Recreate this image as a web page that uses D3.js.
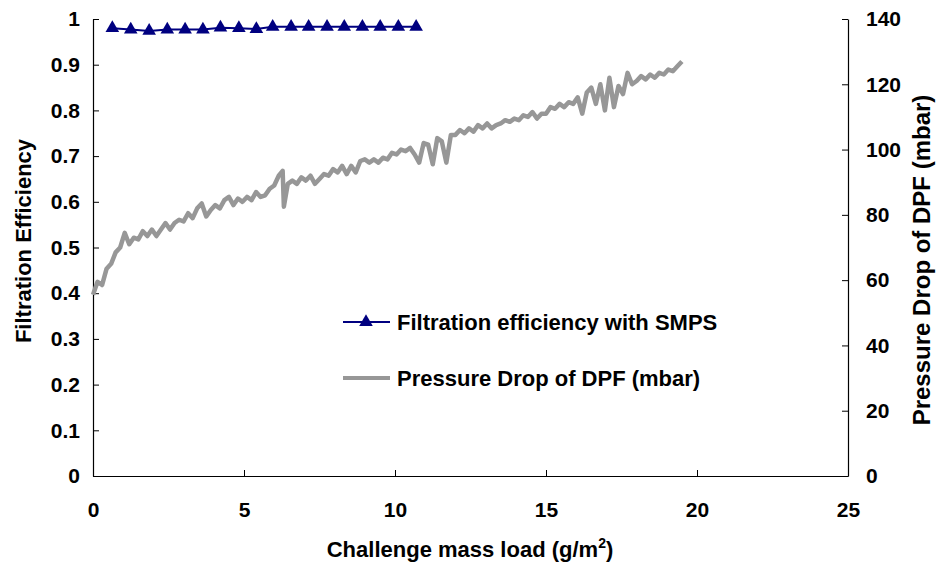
<!DOCTYPE html>
<html>
<head>
<meta charset="utf-8">
<script src="https://cdn.jsdelivr.net/npm/d3@7"></script>
<style>
  body { margin: 0; background: #fff; }
  text { font-family: "Liberation Sans", Arial, sans-serif; font-weight: bold; fill: #000; }
</style>
</head>
<body>
<div id="chart"></div>
<script>
// Filtration efficiency (left axis) and pressure drop (right axis) vs mass load

// efficiency measured with SMPS
var effLoad = [0.64, 1.25, 1.86, 2.46, 3.05, 3.64, 4.22, 4.83, 5.41, 5.95,
               6.56, 7.14, 7.75, 8.32, 8.92, 9.51, 10.11, 10.70];
var effValue = [0.980, 0.977, 0.974, 0.977, 0.977, 0.977, 0.981, 0.980, 0.978, 0.983,
                0.983, 0.983, 0.983, 0.983, 0.983, 0.983, 0.983, 0.983];

// pressure drop of DPF (mbar)
var pdLoad = [0.00, 0.15, 0.30, 0.45, 0.60, 0.75, 0.90, 1.05, 1.20, 1.35,
              1.50, 1.65, 1.80, 1.95, 2.10, 2.25, 2.40, 2.55, 2.70, 2.85,
              3.00, 3.15, 3.30, 3.45, 3.60, 3.75, 3.90, 4.05, 4.20, 4.35,
              4.50, 4.65, 4.80, 4.95, 5.10, 5.25, 5.40, 5.55, 5.70, 5.85,
              6.00, 6.15, 6.28, 6.32, 6.45, 6.60, 6.75, 6.90, 7.05, 7.20, 7.35,
              7.50, 7.65, 7.80, 7.95, 8.10, 8.25, 8.40, 8.55, 8.70, 8.85,
              9.00, 9.15, 9.30, 9.45, 9.60, 9.75, 9.90, 10.05, 10.20, 10.35,
              10.50, 10.65, 10.80, 10.95, 11.10, 11.25, 11.40, 11.55, 11.70, 11.85,
              12.00, 12.15, 12.30, 12.45, 12.60, 12.75, 12.90, 13.05, 13.20, 13.35,
              13.50, 13.65, 13.80, 13.95, 14.10, 14.25, 14.40, 14.55, 14.70, 14.85,
              15.00, 15.15, 15.30, 15.45, 15.60, 15.75, 15.90, 16.05, 16.20, 16.35,
              16.50, 16.65, 16.80, 16.95, 17.10, 17.25, 17.40, 17.55, 17.70, 17.85,
              18.00, 18.15, 18.30, 18.45, 18.60, 18.75, 18.90, 19.05, 19.20, 19.35, 19.50];
var pdMbar = [55.5, 59.5, 58.5, 63.5, 65, 68.5, 70, 74.5, 71, 73,
              72.5, 75, 73.5, 75.5, 73.5, 75.5, 77.5, 75.5, 77.5, 78.5,
              78, 80.5, 79, 82, 83.5, 79.5, 81.5, 83, 82, 84.5,
              85.5, 83, 85, 84, 85.5, 84.5, 87, 85.5, 86, 88,
              89, 92, 93.5, 82.5, 89.5, 90.5, 89.5, 91.5, 90.5, 92, 89.5,
              91, 92.5, 92, 94, 93, 95, 92.5, 95, 93, 96.5,
              97, 96, 97, 96, 97.5, 97, 99, 98.5, 100, 99.5,
              100.5, 98.5, 96, 102, 101.5, 95.5, 103.5, 102.5, 96, 104.5,
              104.5, 106, 105, 106.5, 105.5, 107.5, 106.5, 108, 106.5, 107.5,
              108, 109, 108.5, 109.5, 109, 110.5, 110, 111.5, 109.5, 111,
              111, 113, 112.5, 114, 113, 114.5, 114, 116, 111, 117.5,
              119, 114, 120, 112, 122, 113, 119.5, 117, 123.5, 120,
              121, 122.5, 121.5, 123, 122, 123.5, 123, 124.5, 124, 125.5, 127];

var xTicks = [0, 5, 10, 15, 20, 25];
var effTicks = [0, 0.1, 0.2, 0.3, 0.4, 0.5, 0.6, 0.7, 0.8, 0.9, 1];
var pdTicks = [0, 20, 40, 60, 80, 100, 120, 140];

var legendNames = ["Filtration efficiency with SMPS", "Pressure Drop of DPF (mbar)"];

var effColor = "#000080", pdColor = "#979797";

var margin = {top: 19, right: 88, bottom: 89, left: 93},
    width = 936 - margin.left - margin.right,
    height = 565 - margin.top - margin.bottom;

var svg = d3.select("#chart").append("svg")
    .attr("width", 936)
    .attr("height", 565)
  .append("g")
    .attr("transform", "translate(" + margin.left + "," + margin.top + ")");

var x = d3.scaleLinear().domain([0, 25]).range([0, width]);
var yL = d3.scaleLinear().domain([0, 1]).range([height, 0]);
var yR = d3.scaleLinear().domain([0, 140]).range([height, 0]);

function styleAxis(g) {
    g.selectAll("path.domain").attr("stroke", "#000").attr("stroke-width", 1.2);
    g.selectAll(".tick line").attr("stroke", "#000");
    g.selectAll(".tick text").attr("font-size", 21).attr("font-family", null);
}

// x axis
svg.append("g")
    .attr("transform", "translate(0," + height + ")")
    .call(d3.axisBottom(x).tickValues(xTicks).tickSizeInner(-6).tickSizeOuter(0).tickPadding(26)
        .tickFormat(function(d) { return String(d); }))
    .call(styleAxis);

// left axis
svg.append("g")
    .call(d3.axisLeft(yL).tickValues(effTicks).tickSizeInner(-6).tickSizeOuter(0).tickPadding(13)
        .tickFormat(function(d) { return String(d); }))
    .call(styleAxis);

// right axis
svg.append("g")
    .attr("transform", "translate(" + width + ",0)")
    .call(d3.axisRight(yR).tickValues(pdTicks).tickSizeInner(-6).tickSizeOuter(0).tickPadding(18)
        .tickFormat(function(d) { return String(d); }))
    .call(styleAxis);

// axis titles
var xTitle = svg.append("text")
    .attr("x", 377)
    .attr("y", height + 81)
    .attr("text-anchor", "middle")
    .attr("font-size", 22);
xTitle.append("tspan").text("Challenge mass load (g/m");
xTitle.append("tspan").attr("font-size", 14).attr("dy", -9).text("2");
xTitle.append("tspan").attr("dy", 9).text(")");

svg.append("text")
    .attr("transform", "rotate(-90)")
    .attr("x", -222)
    .attr("y", -62)
    .attr("text-anchor", "middle")
    .attr("font-size", 22)
    .text("Filtration Efficiency");

svg.append("text")
    .attr("transform", "rotate(-90)")
    .attr("x", -241)
    .attr("y", width + 82)
    .attr("text-anchor", "middle")
    .attr("font-size", 24)
    .text("Pressure Drop of DPF (mbar)");

// pressure drop trace
var pdData = pdLoad.map(function(d, i) { return {load: d, v: pdMbar[i]}; });
svg.append("path")
    .datum(pdData)
    .attr("fill", "none")
    .attr("stroke", pdColor)
    .attr("stroke-width", 4.5)
    .attr("stroke-linejoin", "round")
    .attr("d", d3.line()
        .x(function(d) { return x(d.load); })
        .y(function(d) { return yR(d.v); }));

// efficiency line + markers
var effData = effLoad.map(function(d, i) { return {load: d, v: effValue[i]}; });
svg.append("path")
    .datum(effData)
    .attr("fill", "none")
    .attr("stroke", effColor)
    .attr("stroke-width", 2)
    .attr("d", d3.line()
        .x(function(d) { return x(d.load); })
        .y(function(d) { return yL(d.v); }));

var tri = d3.symbol().type(d3.symbolTriangle).size(80);
svg.selectAll(".pt")
    .data(effData)
    .enter().append("path")
    .attr("class", "pt")
    .attr("d", tri)
    .attr("fill", effColor)
    .attr("transform", function(d) { return "translate(" + x(d.load) + "," + yL(d.v) + ")"; });

// legend
var legend = svg.append("g").attr("transform", "translate(250,303)");
legend.append("line")
    .attr("x1", 0).attr("x2", 47).attr("y1", 0).attr("y2", 0)
    .attr("stroke", effColor).attr("stroke-width", 2);
legend.append("path")
    .attr("d", tri)
    .attr("fill", effColor)
    .attr("transform", "translate(23,0)");
legend.append("text")
    .attr("x", 54).attr("y", 0).attr("dy", "0.35em")
    .attr("font-size", 22)
    .text(legendNames[0]);

legend.append("line")
    .attr("x1", 0).attr("x2", 47).attr("y1", 56).attr("y2", 56)
    .attr("stroke", pdColor).attr("stroke-width", 4);
legend.append("text")
    .attr("x", 54).attr("y", 56).attr("dy", "0.35em")
    .attr("font-size", 22)
    .text(legendNames[1]);
</script>
</body>
</html>
